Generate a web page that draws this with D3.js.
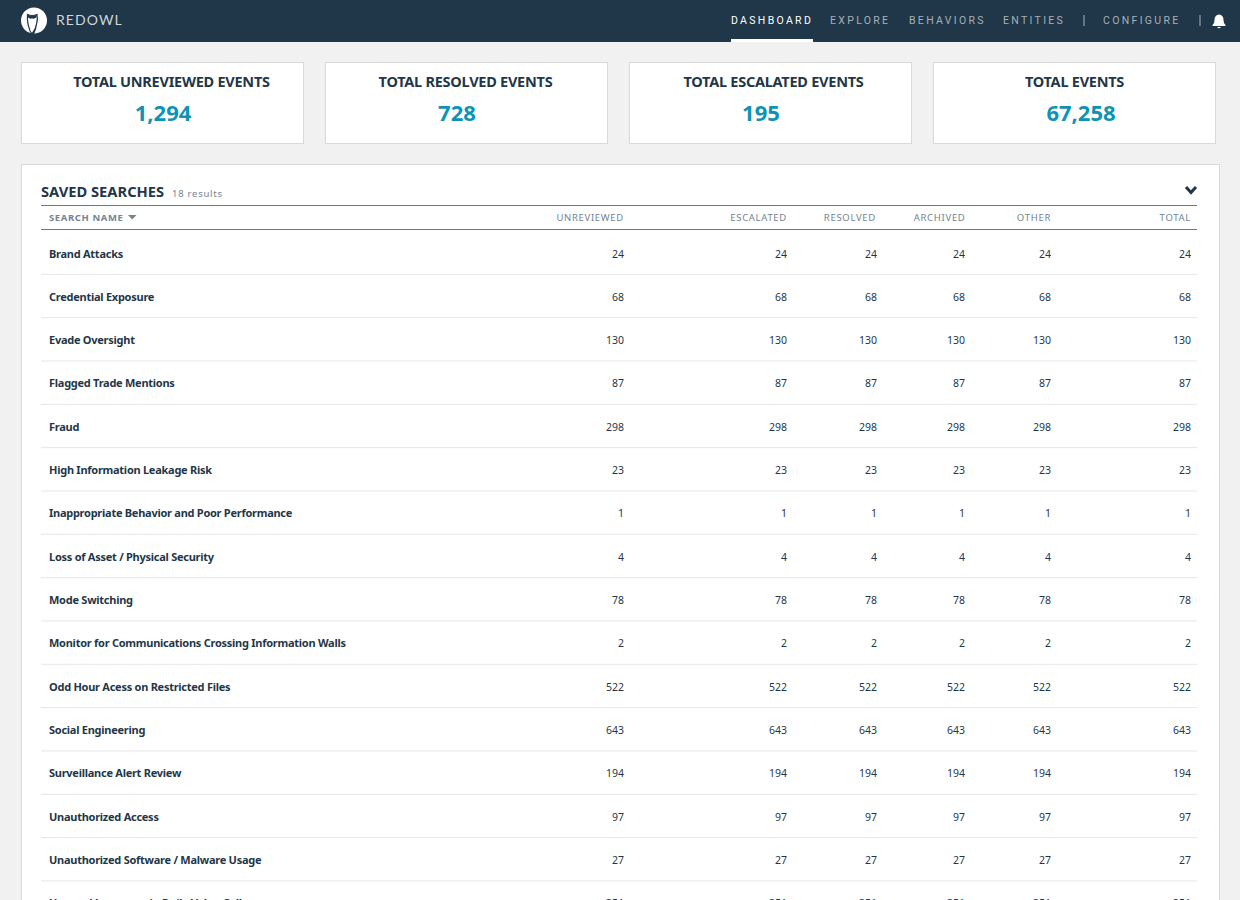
<!DOCTYPE html>
<html>
<head>
<meta charset="utf-8">
<script src="https://cdn.jsdelivr.net/npm/d3@7"></script>
<style>
  html, body { margin: 0; padding: 0; background: #f1f1f1; overflow: hidden; }
  svg { display: block; }
  text { font-family: "Noto Sans", "Open Sans", sans-serif; }
</style>
</head>
<body>
<svg id="chart" width="1240" height="900"></svg>
<script>
// nav
var navItems = ["DASHBOARD", "EXPLORE", "BEHAVIORS", "ENTITIES", "CONFIGURE"];

// summary cards
var cardTitles = ["TOTAL UNREVIEWED EVENTS", "TOTAL RESOLVED EVENTS", "TOTAL ESCALATED EVENTS", "TOTAL EVENTS"];
var cardValues = [1294, 728, 195, 67258];

// table
var columns = ["UNREVIEWED", "ESCALATED", "RESOLVED", "ARCHIVED", "OTHER", "TOTAL"];
var searchNames = [
  "Brand Attacks", "Credential Exposure", "Evade Oversight", "Flagged Trade Mentions", "Fraud",
  "High Information Leakage Risk", "Inappropriate Behavior and Poor Performance",
  "Loss of Asset / Physical Security", "Mode Switching",
  "Monitor for Communications Crossing Information Walls", "Odd Hour Acess on Restricted Files",
  "Social Engineering", "Surveillance Alert Review", "Unauthorized Access",
  "Unauthorized Software / Malware Usage", "Unusual Language in Daily Value Calls"
];
var searchCounts = [24, 68, 130, 87, 298, 23, 1, 4, 78, 2, 522, 643, 194, 97, 27, 351];

var navy = "#1f3748", teal = "#0e93b5", grey = "#75848f";
var svg = d3.select("#chart");

// ---- top bar
svg.append("rect").attr("width", 1240).attr("height", 42).attr("fill", navy);

var logo = svg.append("g");
logo.append("circle").attr("cx", 34).attr("cy", 20.5).attr("r", 13).attr("fill", "#fff");
// owl outline, runs off the bottom of the disc
logo.append("path").attr("fill", "#fff").attr("stroke", navy).attr("stroke-width", 1.2)
  .attr("d", "M27.5 14.5 Q32 16.5 37 14.5 Q38 20 36.5 24 Q36 29 33.5 34 Q30 33 29.5 29 Q27 23 27.5 14.5 Z");
logo.append("path").attr("fill", navy)
  .attr("d", "M27.5 14.5 Q32 17 37 14.5 L36.5 17.5 L33 19 L32 18 L31 19 L28 17.5 Z");
logo.append("path").attr("fill", navy)
  .attr("d", "M36.5 23 Q36.5 29 33.5 34 L31.5 33.5 Q35 29 36.5 23 Z");
svg.append("text").text("REDOWL").attr("x", 56).attr("y", 25)
  .attr("fill", "#cfd5d9").style("font-family", "Lato").attr("font-size", 14).attr("letter-spacing", 1.1);

var navX = d3.scaleOrdinal().domain(navItems).range([731, 830, 909, 1003, 1103]);
svg.append("g").selectAll("text").data(navItems).join("text")
  .text(d => d)
  .attr("x", d => navX(d))
  .attr("y", 24)
  .attr("fill", d => d == "DASHBOARD" ? "#fff" : "#a7b0b6")
  .style("font-family", "Roboto")
  .attr("font-size", 10.5)
  .attr("letter-spacing", 2.32);
svg.append("rect").attr("x", 731).attr("y", 39).attr("width", 82).attr("height", 3).attr("fill", "#fff");
svg.append("g").selectAll("rect").data([1083.5, 1199.5]).join("rect")
  .attr("x", d => d).attr("y", 15).attr("width", 1).attr("height", 11).attr("fill", "#a7b0b6");
// bell
svg.append("path").attr("fill", "#fff")
  .attr("d", "M1219 14.5 Q1223.5 15 1223.5 20 Q1223.5 23.5 1225.5 25 L1225.5 26 L1212.5 26 L1212.5 25 Q1214.5 23.5 1214.5 20 Q1214.5 15 1219 14.5 Z M1217 27 L1221 27 Q1219 29.5 1217 27 Z");

// ---- summary cards
var cardX = d3.scalePoint().domain(cardTitles).range([21.5, 933.5]);
var titleX = d3.scaleOrdinal().domain(cardTitles).range([150, 140, 144, 141]);
var valueX = d3.scaleOrdinal().domain(cardTitles).range([141.5, 131.5, 131.5, 147.5]);
var cards = svg.append("g").selectAll("g").data(cardTitles).join("g")
  .attr("transform", d => `translate(${cardX(d)},62.5)`);
cards.append("rect")
  .attr("width", 282).attr("height", 81)
  .attr("fill", "#fff").attr("stroke", "#d9d9d9");
cards.append("text")
  .text(d => d)
  .attr("x", d => titleX(d))
  .attr("y", 24)
  .attr("text-anchor", "middle")
  .attr("fill", navy).attr("font-size", 14.5).attr("font-weight", 700).attr("letter-spacing", -0.25);
cards.append("text")
  .text((d, i) => d3.format(",")(cardValues[i]))
  .attr("x", d => valueX(d))
  .attr("y", 58)
  .attr("text-anchor", "middle")
  .attr("fill", teal).attr("font-size", 22).attr("font-weight", 700);

// ---- saved searches panel
svg.append("rect").attr("x", 21.5).attr("y", 164.5).attr("width", 1198).attr("height", 760)
  .attr("fill", "#fff").attr("stroke", "#d9d9d9");
svg.append("text").text("SAVED SEARCHES").attr("x", 41).attr("y", 197)
  .attr("fill", navy).attr("font-size", 14.7).attr("font-weight", 700);
svg.append("text").text("18 results").attr("x", 172).attr("y", 197)
  .attr("fill", grey).attr("font-size", 9.5).attr("letter-spacing", 0.75);
svg.append("path").attr("d", "M1186 187 L1191 192.5 L1196 187")
  .attr("fill", "none").attr("stroke", navy).attr("stroke-width", 3);

svg.append("g").selectAll("line").data([205.5, 229.5]).join("line")
  .attr("x1", 41).attr("x2", 1197).attr("y1", d => d).attr("y2", d => d)
  .attr("stroke", "#6b7882");

// column headers
svg.append("text").text("SEARCH NAME").attr("x", 49).attr("y", 221)
  .attr("fill", grey).attr("font-size", 9.5).attr("font-weight", 700).attr("letter-spacing", 0.6);
svg.append("path").attr("d", "M128 215 L136.5 215 L132.2 219.5 Z").attr("fill", grey);

var colHeadX = d3.scaleOrdinal().domain(columns).range([624, 787, 876, 965.5, 1051, 1191]);
var colX = d3.scaleOrdinal().domain(columns).range([624, 787, 877, 965, 1051, 1191]);
svg.append("g").selectAll("text").data(columns).join("text")
  .text(d => d)
  .attr("x", d => colHeadX(d))
  .attr("y", 221)
  .attr("text-anchor", "end")
  .attr("fill", grey).attr("font-size", 9.5).attr("letter-spacing", 0.7);

// rows
var rowY = d3.scaleBand().domain(searchNames).range([231, 231 + 43.33 * searchNames.length]);
var rows = svg.append("g").selectAll("g").data(searchNames).join("g")
  .attr("transform", d => `translate(0,${rowY(d)})`);
rows.append("line")
  .attr("x1", 41).attr("x2", 1197)
  .attr("y1", rowY.bandwidth()).attr("y2", rowY.bandwidth())
  .attr("stroke", "#e6e6e6");
rows.append("text")
  .text(d => d)
  .attr("x", 49).attr("y", 26.5)
  .attr("fill", navy).attr("font-size", 11).attr("font-weight", 700).attr("letter-spacing", -0.26);
rows.selectAll(".cell").data((d, i) => columns.map(c => ({ col: c, val: searchCounts[i] }))).join("text")
  .attr("class", "cell")
  .text(d => d.val)
  .attr("x", d => colX(d.col))
  .attr("y", 26.5)
  .attr("text-anchor", "end")
  .attr("fill", navy).attr("font-size", 10.5);
</script>
</body>
</html>
